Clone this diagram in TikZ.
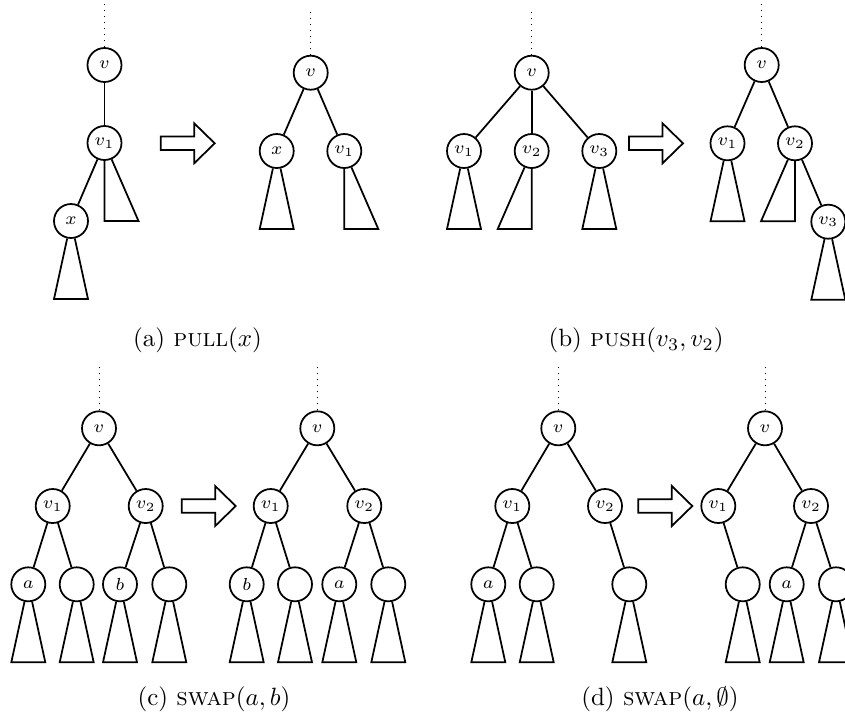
\documentclass[tikz,border=0pt]{standalone}
\usetikzlibrary{calc}
\tikzset{
  tn/.style={circle,draw,line width=0.7pt,minimum size=13.6pt,inner sep=0pt,font=\scriptsize},
  edge/.style={line width=0.7pt},
  dots/.style={dotted,line width=0.4pt},
  blockarrow/.style={line width=0.7pt,line join=miter},
  captext/.style={font=\normalsize,anchor=center}
}
\newcommand\subt[1]{\draw[edge] (#1) -- ($(#1)+(-17,78)$) -- ($(#1)+(17,78)$) -- (#1);}
\newcommand\subtL[1]{\draw[edge] (#1) -- ($(#1)+(34,78)$) -- ($(#1)+(0,78)$) -- (#1);}
\newcommand\subtR[1]{\draw[edge] (#1) -- ($(#1)+(-34,78)$) -- ($(#1)+(0,78)$) -- (#1);}
\newcommand\barrow[2]{\draw[blockarrow,shift={(#1,#2)}] (0,-6.7) -- (33.5,-6.7) -- (33.5,-20) -- (54,0) -- (33.5,20) -- (33.5,6.7) -- (0,6.7) -- cycle;}
\newcommand\dotup[2]{\draw[dots] (#1.north) -- ($(#1.north)+(0,-#2)$);}
\begin{document}
\begin{tikzpicture}[x=0.4pt,y=-0.4pt]
\useasboundingbox (0,0) rectangle (845,715);
% ---------- (a) ----------
\node[tn] (av) at (104.5,65) {$v$};
\node[tn] (av1) at (104.5,143) {$v_1$};
\node[tn] (ax) at (71,221) {$x$};
\dotup{av}{44}
\draw[edge] (av) -- (av1);
\draw[edge] (av1) -- (ax);
\subtL{av1}
\subt{ax}
\barrow{160.7}{143.3}
\node[tn] (aav) at (310.7,72.7) {$v$};
\node[tn] (aax) at (276.7,151) {$x$};
\node[tn] (aav1) at (344.3,151) {$v_1$};
\dotup{aav}{44}
\draw[edge] (aav) -- (aax);
\draw[edge] (aav) -- (aav1);
\subt{aax}
\subtL{aav1}
\node[captext] (capa) at (197.5,340) {(a) \textsc{pull}$(x)$};
% ---------- (b) ----------
\node[tn] (bv) at (531.7,72.7) {$v$};
\node[tn] (bv1) at (464,151) {$v_1$};
\node[tn] (bv2) at (531.7,151) {$v_2$};
\node[tn] (bv3) at (599.3,151) {$v_3$};
\dotup{bv}{44}
\draw[edge] (bv) -- (bv1);
\draw[edge] (bv) -- (bv2);
\draw[edge] (bv) -- (bv3);
\subt{bv1}
\subtR{bv2}
\subt{bv3}
\barrow{629}{143.3}
\node[tn] (bbv) at (761.7,65) {$v$};
\node[tn] (bbv1) at (727.5,143.3) {$v_1$};
\node[tn] (bbv2) at (795,143.3) {$v_2$};
\node[tn] (bbv3) at (828.3,221.7) {$v_3$};
\dotup{bbv}{44}
\draw[edge] (bbv) -- (bbv1);
\draw[edge] (bbv) -- (bbv2);
\draw[edge] (bbv2) -- (bbv3);
\subt{bbv1}
\subtR{bbv2}
\subt{bbv3}
\node[captext] (capb) at (636,340) {(b) \textsc{push}$(v_3,v_2)$};
% ---------- (c) ----------
\node[tn] (cv) at (99,428.3) {$v$};
\node[tn] (cv1) at (52.7,506) {$v_1$};
\node[tn] (cv2) at (145.7,506) {$v_2$};
\node[tn] (cl1) at (28.3,584.3) {$a$};
\node[tn] (cl2) at (76.7,584.3) {};
\node[tn] (cl3) at (120,584.3) {$b$};
\node[tn] (cl4) at (169.3,584.3) {};
\dotup{cv}{44}
\draw[edge] (cv) -- (cv1);
\draw[edge] (cv) -- (cv2);
\draw[edge] (cv1) -- (cl1);
\draw[edge] (cv1) -- (cl2);
\draw[edge] (cv2) -- (cl3);
\draw[edge] (cv2) -- (cl4);
\subt{cl1}\subt{cl2}\subt{cl3}\subt{cl4}
\barrow{181.7}{506}
\node[tn] (ccv) at (317.3,428.3) {$v$};
\node[tn] (ccv1) at (270.7,506) {$v_1$};
\node[tn] (ccv2) at (364.3,506) {$v_2$};
\node[tn] (ccl1) at (246.7,584.3) {$b$};
\node[tn] (ccl2) at (295,584.3) {};
\node[tn] (ccl3) at (339.3,584.3) {$a$};
\node[tn] (ccl4) at (388.3,584.3) {};
\dotup{ccv}{44}
\draw[edge] (ccv) -- (ccv1);
\draw[edge] (ccv) -- (ccv2);
\draw[edge] (ccv1) -- (ccl1);
\draw[edge] (ccv1) -- (ccl2);
\draw[edge] (ccv2) -- (ccl3);
\draw[edge] (ccv2) -- (ccl4);
\subt{ccl1}\subt{ccl2}\subt{ccl3}\subt{ccl4}
\node[captext] (capc) at (214,699) {(c) \textsc{swap}$(a,b)$};
% ---------- (d) ----------
\node[tn] (dv) at (558.3,428.3) {$v$};
\node[tn] (dv1) at (512.3,506) {$v_1$};
\node[tn] (dv2) at (605,506) {$v_2$};
\node[tn] (dl1) at (488.3,584.3) {$a$};
\node[tn] (dl2) at (536.7,584.3) {};
\node[tn] (dl3) at (629.3,584.3) {};
\dotup{dv}{44}
\draw[edge] (dv) -- (dv1);
\draw[edge] (dv) -- (dv2);
\draw[edge] (dv1) -- (dl1);
\draw[edge] (dv1) -- (dl2);
\draw[edge] (dv2) -- (dl3);
\subt{dl1}\subt{dl2}\subt{dl3}
\barrow{638.3}{506}
\node[tn] (ddv) at (765,428.3) {$v$};
\node[tn] (ddv1) at (718.3,506) {$v_1$};
\node[tn] (ddv2) at (811,506) {$v_2$};
\node[tn] (ddl1) at (742.7,584.3) {};
\node[tn] (ddl2) at (786.7,584.3) {$a$};
\node[tn] (ddl3) at (836,584.3) {};
\dotup{ddv}{44}
\draw[edge] (ddv) -- (ddv1);
\draw[edge] (ddv) -- (ddv2);
\draw[edge] (ddv1) -- (ddl1);
\draw[edge] (ddv2) -- (ddl2);
\draw[edge] (ddv2) -- (ddl3);
\subt{ddl1}\subt{ddl2}\subt{ddl3}
\node[captext] (capd) at (660,699) {(d) \textsc{swap}$(a,\emptyset)$};
\end{tikzpicture}
\end{document}
